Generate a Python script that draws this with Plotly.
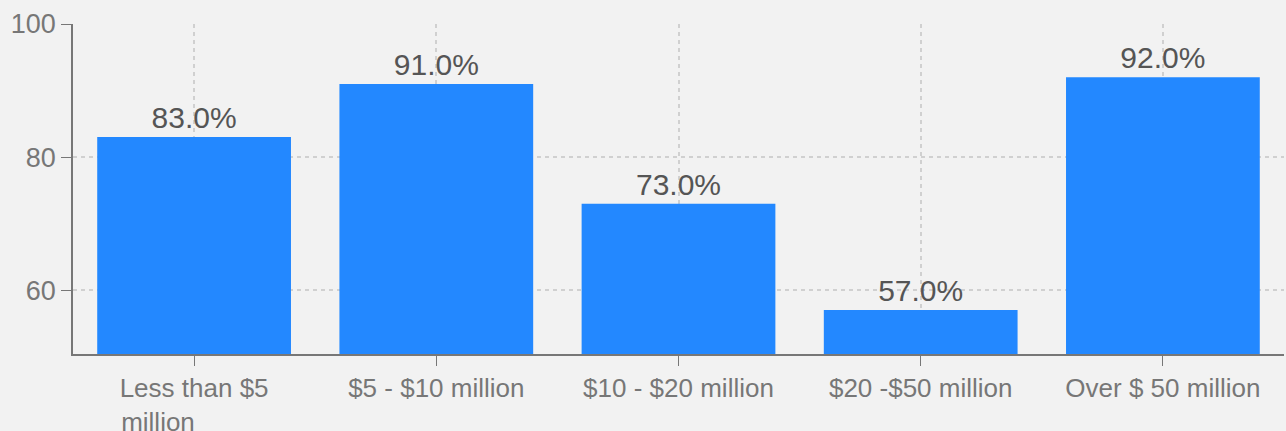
import plotly.graph_objects as go

# second line padded with no-break spaces so it lines up left under the first
categories = ["Less than $5<br>million" + "\u00a0" * 10, "$5 - $10 million", "$10 - $20 million",
              "$20 -$50 million", "Over $ 50 million"]
values = [83.0, 91.0, 73.0, 57.0, 92.0]
y_ticks = [60, 80, 100]

BG = "#f2f2f2"
BAR = "#2388ff"
FONT = "Arial, Liberation Sans, sans-serif"
GRID = dict(showgrid=True, gridcolor="#d0d0d0", griddash="4px,4px", gridwidth=1.5)

fig = go.Figure(
    go.Bar(
        x=categories,
        y=values,
        marker=dict(color=BAR, line=dict(width=0)),
        texttemplate="%{y:.1f}%",
        textposition="outside",
        textfont=dict(size=30, color="#555555", family=FONT),
        cliponaxis=False,
        hoverinfo="skip",
    )
)

fig.update_layout(
    width=1286,
    height=431,
    paper_bgcolor=BG,
    plot_bgcolor=BG,
    margin=dict(l=73, r=2, t=24, b=77),
    bargap=0.2,
    showlegend=False,
    font=dict(family=FONT, size=26, color="#777777"),
)
fig.update_xaxes(
    showline=True, linecolor="#777777", linewidth=1.5,
    ticks="outside", ticklen=10, tickcolor="#777777",
    tickfont=dict(size=26, color="#777777"),
    automargin=False,
    **GRID,
)
fig.update_yaxes(
    range=[50.4, 100], tickvals=y_ticks,
    showline=True, linecolor="#777777", linewidth=1.5,
    ticks="outside", ticklen=10, tickcolor="#777777",
    zeroline=False, automargin=False,
    tickfont=dict(size=27, color="#777777"),
    **GRID,
)

fig.write_html(
    "out.html",
    config={"displayModeBar": False},
    post_script="document.body.style.margin='0';document.body.style.background='%s';" % BG,
)
